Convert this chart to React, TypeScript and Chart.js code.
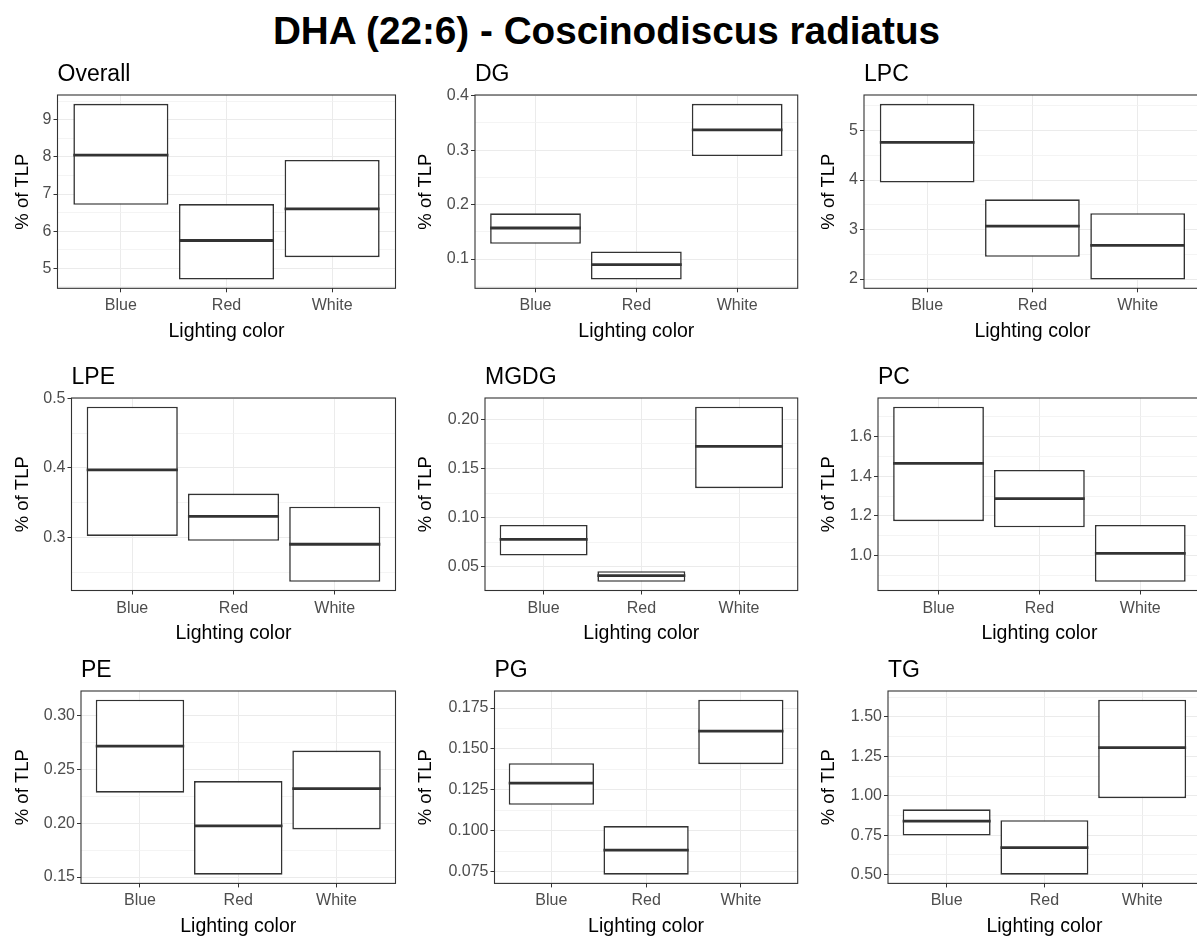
import React, { useEffect, useRef } from 'react';
import { Chart, registerables } from 'chart.js';

Chart.register(...registerables);

// ---------- data ----------
const categories = ['Blue', 'Red', 'White'];
const xAxisTitle = 'Lighting color';
const yAxisTitle = '% of TLP';
const mainTitle = 'DHA (22:6) - Coscinodiscus radiatus';

const overallLow = [6.71, 4.70, 5.30];
const overallMid = [8.05, 5.75, 6.60];
const overallHigh = [9.43, 6.73, 7.92];
const overallTicks = ['5', '6', '7', '8', '9'];

const dgLow = [0.128, 0.0625, 0.289];
const dgMid = [0.157, 0.090, 0.337];
const dgHigh = [0.184, 0.114, 0.385];
const dgTicks = ['0.1', '0.2', '0.3', '0.4'];

const lpcLow = [3.95, 2.45, 1.99];
const lpcMid = [4.76, 3.07, 2.68];
const lpcHigh = [5.54, 3.61, 3.33];
const lpcTicks = ['2', '3', '4', '5'];

const lpeLow = [0.302, 0.295, 0.236];
const lpeMid = [0.397, 0.330, 0.290];
const lpeHigh = [0.488, 0.363, 0.344];
const lpeTicks = ['0.3', '0.4', '0.5'];

const mgdgLow = [0.0614, 0.0348, 0.130];
const mgdgMid = [0.078, 0.041, 0.1724];
const mgdgHigh = [0.0926, 0.0456, 0.2128];
const mgdgTicks = ['0.05', '0.10', '0.15', '0.20'];

const pcLow = [1.173, 1.142, 0.867];
const pcMid = [1.465, 1.287, 1.010];
const pcHigh = [1.751, 1.432, 1.154];
const pcTicks = ['1.0', '1.2', '1.4', '1.6'];

const peLow = [0.2282, 0.1522, 0.1941];
const peMid = [0.2713, 0.1975, 0.2319];
const peHigh = [0.3144, 0.239, 0.2673];
const peTicks = ['0.15', '0.20', '0.25', '0.30'];

const pgLow = [0.1159, 0.0732, 0.1407];
const pgMid = [0.1291, 0.0882, 0.1609];
const pgHigh = [0.1413, 0.1029, 0.1801];
const pgTicks = ['0.075', '0.100', '0.125', '0.150', '0.175'];

const tgLow = [0.748, 0.500, 0.985];
const tgMid = [0.840, 0.672, 1.306];
const tgHigh = [0.914, 0.845, 1.609];
const tgTicks = ['0.50', '0.75', '1.00', '1.25', '1.50'];

// ---------- layout / style ----------
const FONT = '"Liberation Sans", Arial, Helvetica, sans-serif';
const BOX_WIDTH = 0.9;
const COL_LEFT = [0, 403, 806];
const COL_PLOT_RIGHT = [395.5, 797.7, 1200.8];
const ROW_PLOT_TOP = [95, 397.5, 691.3];
const ROW_PLOT_BOTTOM = [288.3, 590, 883.7];
const TOP_SPACE = 45;
const BOTTOM_SPACE = 62;
const RIGHT_SPACE = 3;

type Panel = {
  title: string;
  low: number[];
  mid: number[];
  high: number[];
  ticks: string[];
  col: number;
  row: number;
  plotLeft: number;
};

const panels: Panel[] = [
  { title: 'Overall', low: overallLow, mid: overallMid, high: overallHigh, ticks: overallTicks, col: 0, row: 0, plotLeft: 57.5 },
  { title: 'DG', low: dgLow, mid: dgMid, high: dgHigh, ticks: dgTicks, col: 1, row: 0, plotLeft: 475 },
  { title: 'LPC', low: lpcLow, mid: lpcMid, high: lpcHigh, ticks: lpcTicks, col: 2, row: 0, plotLeft: 864 },
  { title: 'LPE', low: lpeLow, mid: lpeMid, high: lpeHigh, ticks: lpeTicks, col: 0, row: 1, plotLeft: 71.5 },
  { title: 'MGDG', low: mgdgLow, mid: mgdgMid, high: mgdgHigh, ticks: mgdgTicks, col: 1, row: 1, plotLeft: 485 },
  { title: 'PC', low: pcLow, mid: pcMid, high: pcHigh, ticks: pcTicks, col: 2, row: 1, plotLeft: 878 },
  { title: 'PE', low: peLow, mid: peMid, high: peHigh, ticks: peTicks, col: 0, row: 2, plotLeft: 81 },
  { title: 'PG', low: pgLow, mid: pgMid, high: pgHigh, ticks: pgTicks, col: 1, row: 2, plotLeft: 494.5 },
  { title: 'TG', low: tgLow, mid: tgMid, high: tgHigh, ticks: tgTicks, col: 2, row: 2, plotLeft: 888 },
];

function PanelChart({ p }: { p: Panel }) {
  const ref = useRef<HTMLCanvasElement>(null);
  const left = COL_LEFT[p.col];
  const top = ROW_PLOT_TOP[p.row] - TOP_SPACE;
  const width = Math.ceil(COL_PLOT_RIGHT[p.col] + RIGHT_SPACE - left);
  const height = Math.ceil(ROW_PLOT_BOTTOM[p.row] + BOTTOM_SPACE - top);
  const rightPad = width - (COL_PLOT_RIGHT[p.col] - left);
  const xAxisHeight = height - (ROW_PLOT_BOTTOM[p.row] - top);
  const yAxisWidth = p.plotLeft - left;

  useEffect(() => {
    if (!ref.current) return;
    const lo = Math.min(...p.low);
    const hi = Math.max(...p.high);
    const expand = (hi - lo) * 0.05;
    const yMin = lo - expand;
    const yMax = hi + expand;
    const major = p.ticks.map(Number);
    const step = major[1] - major[0];
    const minor: number[] = [];
    for (let i = -1; i < major.length; i++) {
      const v = major[0] + (i + 0.5) * step;
      if (v >= yMin && v <= yMax) minor.push(v);
    }
    const yTicks = [
      ...major.map((v, i) => ({ value: v, lbl: p.ticks[i], minor: false })),
      ...minor.map((v) => ({ value: v, lbl: '', minor: true })),
    ].sort((a, b) => a.value - b.value);
    const xTicks = categories.map((c, i) => ({ value: i + 1, lbl: c }));

    const datasets: any[] = [
      {
        type: 'bar',
        data: categories.map((c, i) => ({ x: i + 1, y: [p.low[i], p.high[i]] })),
        backgroundColor: '#ffffff',
        borderColor: '#333333',
        borderWidth: 1.6,
        borderSkipped: false,
        barPercentage: BOX_WIDTH,
        categoryPercentage: 1,
        order: 2,
      },
      ...categories.map((c, i) => ({
        type: 'line',
        data: [
          { x: i + 1 - BOX_WIDTH / 2, y: p.mid[i] },
          { x: i + 1 + BOX_WIDTH / 2, y: p.mid[i] },
        ],
        borderColor: '#333333',
        borderWidth: 2.8,
        borderCapStyle: 'butt',
        pointRadius: 0,
        fill: false,
        order: 1,
      })),
    ];

    const chart = new Chart(ref.current, {
      type: 'bar',
      data: { datasets },
      options: {
        responsive: false,
        animation: false,
        events: [],
        layout: { padding: { left: 0, top: TOP_SPACE, right: rightPad, bottom: 0 } },
        plugins: {
          legend: { display: false },
          tooltip: { enabled: false },
          title: { display: false },
        },
        scales: {
          x: {
            type: 'linear',
            min: 0.4,
            max: 3.6,
            offset: false,
            border: { display: false },
            grid: {
              offset: false,
              color: '#EBEBEB',
              lineWidth: 1,
              tickColor: '#333333',
              tickLength: 4,
              tickWidth: 1,
            },
            afterBuildTicks: (s: any) => {
              s.ticks = xTicks.map((t) => ({ ...t }));
            },
            afterFit: (s: any) => {
              s.height = xAxisHeight;
            },
            ticks: {
              autoSkip: false,
              maxRotation: 0,
              minRotation: 0,
              padding: 4,
              color: '#4D4D4D',
              font: { size: 16, family: FONT },
              callback: (v: any, i: number, t: any[]) => (t[i] ? t[i].lbl : ''),
            },
            title: {
              display: true,
              text: xAxisTitle,
              color: '#000000',
              font: { size: 19.5, family: FONT },
              padding: { top: 0, bottom: 7.5 },
            },
          },
          y: {
            type: 'linear',
            min: yMin,
            max: yMax,
            beginAtZero: false,
            border: { display: false },
            grid: {
              color: (ctx: any) => (ctx.tick && ctx.tick.minor ? '#F1F1F1' : '#EBEBEB'),
              lineWidth: (ctx: any) => (ctx.tick && ctx.tick.minor ? 0.8 : 1),
              tickColor: (ctx: any) => (ctx.tick && ctx.tick.minor ? 'rgba(0,0,0,0)' : '#333333'),
              tickLength: 4,
              tickWidth: 1,
            },
            afterBuildTicks: (s: any) => {
              s.ticks = yTicks.map((t) => ({ ...t }));
            },
            afterFit: (s: any) => {
              s.width = yAxisWidth;
            },
            ticks: {
              autoSkip: false,
              padding: 2,
              color: '#4D4D4D',
              font: { size: 16, family: FONT },
              callback: (v: any, i: number, t: any[]) => (t[i] ? t[i].lbl : ''),
            },
            title: {
              display: true,
              text: yAxisTitle,
              color: '#000000',
              font: { size: 18.5, family: FONT },
              padding: { top: 12, bottom: 0 },
            },
          },
        },
      } as any,
      plugins: [
        {
          id: 'panelDeco',
          afterDatasetsDraw(c: any) {
            const { ctx, chartArea: a } = c;
            ctx.save();
            ctx.strokeStyle = '#333333';
            ctx.lineWidth = 1.1;
            ctx.strokeRect(a.left, a.top, a.right - a.left, a.bottom - a.top);
            ctx.restore();
          },
          afterDraw(c: any) {
            const { ctx, chartArea: a } = c;
            ctx.save();
            ctx.font = `23px ${FONT}`;
            ctx.fillStyle = '#000000';
            ctx.textAlign = 'left';
            ctx.textBaseline = 'alphabetic';
            ctx.fillText(p.title, a.left, a.top - 14);
            ctx.restore();
          },
        },
      ],
    });
    return () => chart.destroy();
  }, []);

  return (
    <canvas
      ref={ref}
      width={width}
      height={height}
      style={{ position: 'absolute', left, top, width, height }}
    />
  );
}

export default function App() {
  return (
    <div
      style={{
        position: 'absolute',
        left: 0,
        top: 0,
        width: 1197,
        height: 937,
        overflow: 'hidden',
        background: '#ffffff',
      }}
    >
      <div
        style={{
          position: 'absolute',
          left: 0,
          top: 12,
          width: 1213,
          textAlign: 'center',
          fontFamily: FONT,
          fontWeight: 'bold',
          fontSize: 38.7,
          lineHeight: '38.7px',
          color: '#000000',
          whiteSpace: 'nowrap',
        }}
      >
        {mainTitle}
      </div>
      {panels.map((p) => (
        <PanelChart key={p.title} p={p} />
      ))}
    </div>
  );
}
